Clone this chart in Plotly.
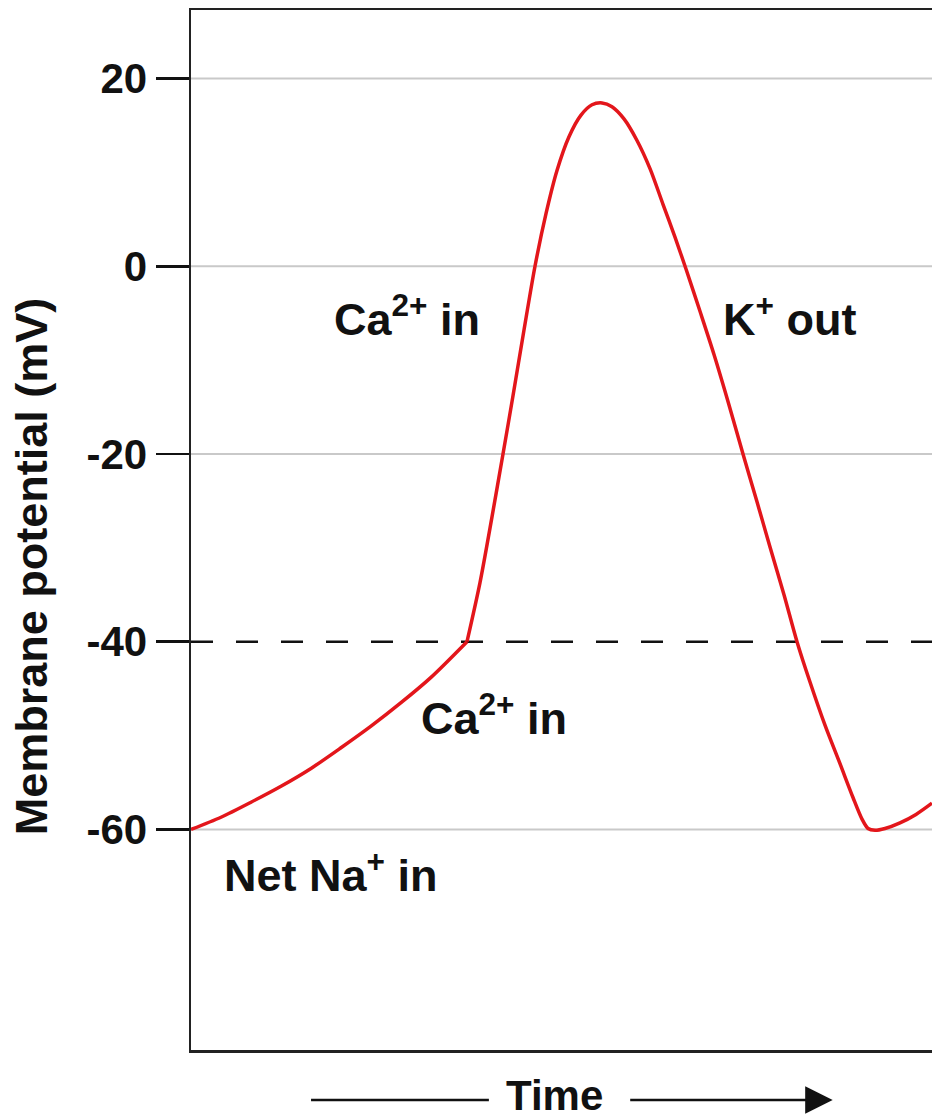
import plotly.graph_objects as go

# ---- data (time in arbitrary units, potential in mV) ----
# Phase 4: slow pacemaker depolarisation (net Na+ in, then Ca2+ in)
t_pacemaker = [0, 30, 60, 90, 120, 150, 180, 210, 240, 276]
v_pacemaker = [-60.0, -58.7, -57.1, -55.4, -53.5, -51.3, -49.0, -46.5, -43.8, -40.0]

# Upstroke (Ca2+ in), peak and repolarisation (K+ out), start of next cycle
t_action = [276, 289, 301, 312, 322, 333, 344, 355, 366, 378, 390, 401, 411,
            421, 433, 446, 459, 472, 484, 495, 509, 523, 537, 552, 566, 579,
            593, 606, 619, 634, 649, 662, 671, 677, 684, 694, 709, 725, 741]
v_action = [-40.0, -33.7, -26.7, -20.0, -13.8, -6.8, 0.0, 5.6, 10.2, 13.8,
            16.1, 17.2, 17.4, 17.0, 15.7, 13.4, 10.4, 6.6, 3.1, -0.3, -4.8,
            -9.4, -14.4, -20.0, -25.1, -29.9, -35.0, -40.0, -44.3, -48.9, -53.0,
            -56.6, -58.9, -59.9, -60.1, -59.9, -59.3, -58.4, -57.2]

y_ticks = [20, 0, -20, -40, -60]
grid_vals = [20, 0, -20, -60]
threshold = -40
x_range = [0, 741]
y_range = [-83.5, 27.3]

RED = "#e3161b"
INK = "#111111"
FONT = "Liberation Sans"

fig = go.Figure()

for tx, vy in ((t_pacemaker, v_pacemaker), (t_action, v_action)):
    fig.add_trace(go.Scatter(x=tx, y=vy, mode="lines",
                             line=dict(color=RED, width=3.5, shape="spline", smoothing=0.8),
                             hoverinfo="skip", showlegend=False))

shapes = []
for g in grid_vals:
    shapes.append(dict(type="line", xref="paper", x0=0, x1=1, yref="y", y0=g, y1=g,
                       line=dict(color="#c9c9c9", width=2), layer="below"))
shapes.append(dict(type="line", xref="paper", x0=0, x1=1, yref="y", y0=threshold, y1=threshold,
                   line=dict(color=INK, width=2.5, dash="22px,23px"), layer="below"))
# "Time" arrow, left segment
shapes.append(dict(type="line", xref="paper", yref="paper", x0=0.162, x1=0.402,
                   y0=-0.048, y1=-0.048, line=dict(color=INK, width=2.5)))

lab_font = dict(family=FONT, size=45, color=INK, weight="bold")
annotations = [
    dict(x=216, y=-5.3, text="Ca<sup>2+</sup> in", showarrow=False, font=lab_font),
    dict(x=598, y=-5.3, text="K<sup>+</sup> out", showarrow=False, font=lab_font),
    dict(x=303, y=-47.8, text="Ca<sup>2+</sup> in", showarrow=False, font=lab_font),
    dict(x=139, y=-64.5, text="Net Na<sup>+</sup> in", showarrow=False, font=lab_font),
    dict(xref="paper", yref="paper", x=0.49, y=-0.0435, text="Time", showarrow=False,
         xanchor="center", yanchor="middle",
         font=dict(family=FONT, size=42, color=INK, weight="bold")),
    dict(xref="paper", yref="paper", x=-0.216, y=0.465, text="Membrane potential (mV)",
         textangle=-90, showarrow=False, xanchor="center", yanchor="middle", font=lab_font),
    # right segment with arrowhead
    dict(xref="paper", yref="paper", x=0.866, y=-0.048, ax=-204, ay=0, text="",
         showarrow=True, arrowhead=2, arrowsize=2.2, arrowwidth=2.5, arrowcolor=INK,
         standoff=0),
]

fig.update_layout(
    width=932, height=1118,
    margin=dict(l=191, r=0, t=10, b=68),
    paper_bgcolor="white", plot_bgcolor="white",
    shapes=shapes, annotations=annotations,
    xaxis=dict(range=x_range, showgrid=False, zeroline=False, showticklabels=False,
               ticks="", showline=True, linecolor="#222222", linewidth=2.5, mirror=True,
               fixedrange=True),
    yaxis=dict(range=y_range, tickvals=y_ticks, ticktext=[str(v) for v in y_ticks],
               showgrid=False, zeroline=False, ticks="outside", ticklen=33, tickwidth=2.5,
               tickcolor=INK, showline=True, linecolor="#222222", linewidth=2.5,
               tickfont=dict(family=FONT, size=42, color=INK, weight="bold"),
               ticklabelstandoff=0, fixedrange=True),
    showlegend=False,
)

fig.write_html("out.html",
               config={"displayModeBar": False, "staticPlot": True},
               post_script="document.body.style.margin='0';document.body.style.padding='0';"
                           "document.documentElement.style.overflow='hidden';")
